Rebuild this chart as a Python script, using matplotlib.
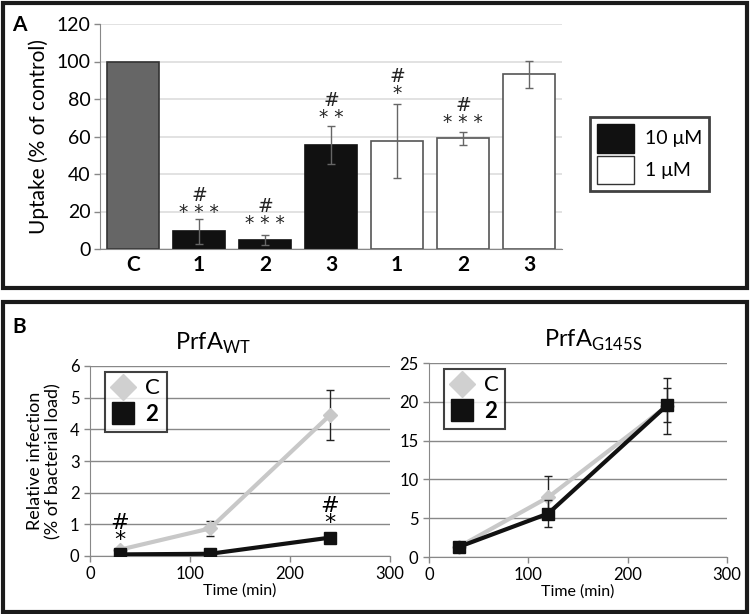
import matplotlib
matplotlib.use("Agg")
import matplotlib.pyplot as plt
from matplotlib.patches import Rectangle, Patch
from matplotlib.lines import Line2D

plt.rcParams['font.family'] = ['Lato', 'DejaVu Sans']
plt.rcParams['mathtext.fontset'] = 'custom'
plt.rcParams['mathtext.rm'] = 'Lato'

# ---------------- Data ----------------
bar_labels = ['C', '1', '2', '3', '1', '2', '3']
bar_groups = ['ctrl', '10', '10', '10', '1', '1', '1']
bar_values = [100, 9.5, 5.0, 55.5, 57.7, 59.0, 93.2]
bar_errors = [0.0, 6.7, 2.6, 10.0, 19.9, 3.5, 7.3]
bar_marks = ['', '#\n* * *', '#\n* * *', '#\n* *', '#\n*', '#\n* * *', '']
mark_y = [0, 24.0, 18.0, 74.5, 87.5, 72.0, 0]

time = [30, 120, 240]
wt_c = [0.2, 0.87, 4.45]
wt_c_err = [0.05, 0.25, 0.8]
wt_2 = [0.05, 0.07, 0.58]
wt_2_err = [0.02, 0.03, 0.06]
wt_marks = ['#\n*', '', '#\n*']

mut_c = [1.3, 7.7, 19.5]
mut_c_err = [0.3, 2.8, 3.6]
mut_2 = [1.3, 5.6, 19.6]
mut_2_err = [0.3, 1.7, 2.2]

W, H = 750, 614
fig = plt.figure(figsize=(7.5, 6.14), dpi=100)

def ax_px(x0, x1, ytop, ybot):
    return fig.add_axes([x0 / W, 1 - ybot / H, (x1 - x0) / W, (ybot - ytop) / H])

# outer frames
for (x0, y0, x1, y1) in [(3, 3, 747, 288), (3, 302, 747, 612)]:
    fig.patches.append(Rectangle((x0 / W, 1 - y1 / H), (x1 - x0) / W, (y1 - y0) / H,
                                 transform=fig.transFigure, fill=False,
                                 edgecolor='#1a1a1a', linewidth=3))

# ---------------- Panel A ----------------
axA = ax_px(100, 562, 24, 249)
colors = {'ctrl': '#666666', '10': '#111111', '1': '#ffffff'}
edges = {'ctrl': '#333333', '10': '#111111', '1': '#555555'}
xs = list(range(len(bar_values)))
for i in xs:
    g = bar_groups[i]
    axA.bar(i, bar_values[i], width=0.8, color=colors[g], edgecolor=edges[g],
            linewidth=1.2, zorder=2)
    if bar_errors[i] > 0:
        axA.errorbar(i, bar_values[i], yerr=bar_errors[i], fmt='none',
                     ecolor='#666666', elinewidth=1, capsize=3, capthick=1, zorder=3)
    if bar_marks[i]:
        axA.text(i, mark_y[i], bar_marks[i], ha='center', va='center',
                 fontsize=13.5, family='DejaVu Sans', color='#222222',
                 linespacing=0.85, multialignment='center')
axA.set_xlim(-0.5, 6.5)
axA.set_ylim(0, 120)
axA.set_yticks(range(0, 121, 20))
axA.set_xticks(xs)
axA.set_xticklabels(bar_labels, fontsize=15, fontweight='bold')
axA.tick_params(axis='x', length=0, pad=4)
axA.tick_params(axis='y', labelsize=14, color='#888888', length=4, width=1, pad=3)
axA.yaxis.grid(True, color='#dddddd', linewidth=1.2, zorder=0)
axA.set_axisbelow(True)
for s in ['top', 'right']:
    axA.spines[s].set_visible(False)
for s in ['left', 'bottom']:
    axA.spines[s].set_color('#888888')
axA.set_ylabel('Uptake (% of control)', fontsize=15, labelpad=5)

legA = axA.legend(handles=[Patch(facecolor='#111111', edgecolor='#111111', label='10 μM'),
                           Patch(facecolor='white', edgecolor='#333333', label='1 μM')],
                  loc='upper left', bbox_to_anchor=((590 - 100) / 462, (249 - 117) / 225),
                  frameon=True, fancybox=False, fontsize=14, handlelength=1.9,
                  handleheight=1.9, borderpad=0.35, labelspacing=0.15,
                  handletextpad=0.6, borderaxespad=0)
legA.get_frame().set_edgecolor('#111111')
legA.get_frame().set_linewidth(2)
fig.text(12 / W, 1 - 25 / H, 'A', fontsize=15, fontweight='bold', ha='left', va='center')

# ---------------- Panel B ----------------
fig.text(12 / W, 1 - 327 / H, 'B', fontsize=15, fontweight='bold', ha='left', va='center')

def line_panel(ax, c, ce, d, de, ymax, ystep, title, title_x):
    ax.errorbar(time, c, yerr=ce, color='#c8c8c8', lw=3, marker='D', ms=7,
                ecolor='#222222', elinewidth=1, capsize=3, capthick=1, zorder=3)
    ax.errorbar(time, d, yerr=de, color='#111111', lw=3, marker='s', ms=9,
                ecolor='#222222', elinewidth=1, capsize=3, capthick=1, zorder=4)
    ax.set_xlim(0, 300)
    ax.set_ylim(0, ymax)
    ax.set_xticks([0, 100, 200, 300])
    ax.set_yticks(range(0, ymax + 1, ystep))
    ax.yaxis.grid(True, color='#888888', linewidth=1, zorder=0)
    ax.set_axisbelow(True)
    for s in ['top', 'right']:
        ax.spines[s].set_visible(False)
    for s in ['left', 'bottom']:
        ax.spines[s].set_color('#888888')
    ax.tick_params(labelsize=12, color='#888888', length=4, width=1)
    ax.set_xlabel('Time (min)', fontsize=11.5, labelpad=1)
    ax.set_title(title, fontsize=17, x=title_x, pad=12)
    leg = ax.legend(handles=[Line2D([], [], ls='none', marker='D', ms=13, color='#d0d0d0', label='C'),
                             Line2D([], [], ls='none', marker='s', ms=16, color='#111111', label='2')],
                    loc='upper left', bbox_to_anchor=(0.05, 0.97), frameon=True, fancybox=False,
                    fontsize=16, handlelength=1.0, borderpad=0.3, labelspacing=0.25,
                    handletextpad=0.5, borderaxespad=0)
    leg.get_frame().set_edgecolor('#111111')
    leg.get_frame().set_linewidth(1.5)
    leg.get_texts()[1].set_fontweight('bold')

axL = ax_px(90, 390, 366, 556)
line_panel(axL, wt_c, wt_c_err, wt_2, wt_2_err, 6, 1, r'PrfA$_{\mathregular{WT}}$', 0.41)
axL.set_ylabel('Relative infection\n(% of bacterial load)', fontsize=13, labelpad=6)
for t, v, m in zip(time, wt_2, wt_marks):
    if m:
        axL.text(t, v + 0.72, m, ha='center', va='center', fontsize=16,
                 family='DejaVu Sans', linespacing=0.8, multialignment='center')

axR = ax_px(429, 727, 363, 557)
line_panel(axR, mut_c, mut_c_err, mut_2, mut_2_err, 25, 5, r'PrfA$_{\mathregular{G145S}}$', 0.55)

fig.savefig('out.png', dpi=100)
